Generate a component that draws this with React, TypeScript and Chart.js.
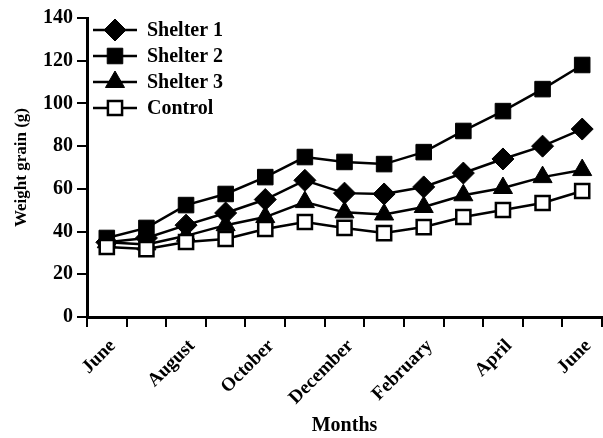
import React, { useEffect, useRef } from 'react';
import { Chart, registerables } from 'chart.js';
import { drawPoint } from 'chart.js/helpers';

Chart.register(...registerables);

const months = ['June', 'July', 'August', 'September', 'October', 'November', 'December', 'January', 'February', 'March', 'April', 'May', 'June'];
const shelter1 = [35, 37, 43, 48.7, 55, 64, 58, 57.6, 60.9, 67.4, 74, 80, 88];
const shelter2 = [37, 41.7, 52.4, 57.6, 65.5, 74.9, 72.6, 71.6, 77.2, 87.1, 96.4, 106.7, 118];
const shelter3 = [35, 34, 38, 43, 46.8, 53.8, 49, 48, 51.5, 57, 60.4, 65.5, 68.8];
const control = [32.8, 31.8, 35.1, 36.5, 41.2, 44.5, 41.7, 39.3, 42.1, 46.8, 50.1, 53.4, 59];
const yTicks = [0, 20, 40, 60, 80, 100, 120, 140];

const FONT = '"Liberation Serif", "Times New Roman", serif';

const legendPlugin = {
  id: 'customLegend',
  afterDraw(chart: any) {
    const ctx = chart.ctx;
    const { left, top } = chart.chartArea;
    const items = [...chart.data.datasets];
    ctx.save();
    items.forEach((ds: any, i: number) => {
      const y = top + 12 + i * 26;
      ctx.strokeStyle = '#000';
      ctx.lineWidth = 2.5;
      ctx.beginPath();
      ctx.moveTo(left + 6, y);
      ctx.lineTo(left + 50, y);
      ctx.stroke();
      ctx.fillStyle = ds.pointBackgroundColor;
      ctx.strokeStyle = '#000';
      ctx.lineWidth = ds.pointBorderWidth;
      drawPoint(ctx, { pointStyle: ds.pointStyle, radius: ds.pointRadius, borderWidth: ds.pointBorderWidth, rotation: 0 }, left + 28, y);
      ctx.fillStyle = '#000';
      ctx.font = `bold 20px ${FONT}`;
      ctx.textAlign = 'left';
      ctx.textBaseline = 'middle';
      ctx.fillText(ds.label, left + 60, y + 1);
    });
    ctx.restore();
  },
};

export default function App() {
  const ref = useRef<HTMLCanvasElement | null>(null);
  useEffect(() => {
    document.body.style.margin = '0';
    if (!ref.current) return;
    const mk = (label: string, data: number[], style: string, radius: number, bg: string, bw: number, order: number) => ({
      label,
      data,
      borderColor: '#000',
      borderWidth: 2.5,
      pointStyle: style,
      pointRadius: radius,
      pointHoverRadius: radius,
      pointBackgroundColor: bg,
      pointBorderColor: '#000',
      pointBorderWidth: bw,
      tension: 0,
      clip: false,
      order,
    });
    const chart = new Chart(ref.current, {
      type: 'line',
      data: {
        labels: months,
        datasets: [
          mk('Shelter 1', shelter1, 'rectRot', 11, '#000', 1, 3),
          mk('Shelter 2', shelter2, 'rect', 11, '#000', 1, 2),
          mk('Shelter 3', shelter3, 'triangle', 11, '#000', 1, 1),
          mk('Control', control, 'rect', 10, '#fff', 2.5, 0),
        ],
      },
      options: {
        responsive: false,
        animation: false,
        layout: { autoPadding: false, padding: { top: 18, right: 1, left: 0, bottom: 0 } },
        plugins: { legend: { display: false }, tooltip: { enabled: false } },
        scales: {
          x: {
            offset: true,
            grid: { display: true, offset: true, drawOnChartArea: false, drawTicks: true, tickLength: 10, color: '#000', tickWidth: 2, lineWidth: 2 },
            border: { display: true, color: '#000', width: 3 },
            ticks: {
              autoSkip: false,
              maxRotation: 45,
              minRotation: 45,
              color: '#000',
              padding: 8,
              labelOffset: 6,
              font: { family: FONT, size: 19, weight: 'bold' },
              callback: (_v: any, i: number) => (i % 2 === 0 ? months[i] : ''),
            },
            title: { display: true, text: 'Months', color: '#000', font: { family: FONT, size: 20, weight: 'bold' }, padding: { top: 2, bottom: 0 } },
            afterFit: (s: any) => { s.height = 121; s.paddingLeft = 0; s.paddingRight = 0; },
          },
          y: {
            min: 0,
            max: 140,
            afterBuildTicks: (s: any) => { s.ticks = yTicks.map((v) => ({ value: v })); },
            grid: { display: true, drawOnChartArea: false, drawTicks: true, tickLength: 10, color: '#000', tickWidth: 2, lineWidth: 2 },
            border: { display: true, color: '#000', width: 3 },
            ticks: { color: '#000', padding: 4, font: { family: FONT, size: 20, weight: 'bold' } },
            title: { display: true, text: 'Weight grain (g)', color: '#000', font: { family: FONT, size: 17, weight: 'bold' }, padding: { top: 11, bottom: 0 } },
            afterFit: (s: any) => { s.width = 87; s.paddingTop = 0; s.paddingBottom = 0; },
          },
        },
      },
      plugins: [legendPlugin],
    } as any);
    return () => chart.destroy();
  }, []);
  return (
    <div style={{ position: 'absolute', left: 0, top: 0, width: 603, height: 438 }}>
      <canvas ref={ref} width={603} height={438} />
    </div>
  );
}
